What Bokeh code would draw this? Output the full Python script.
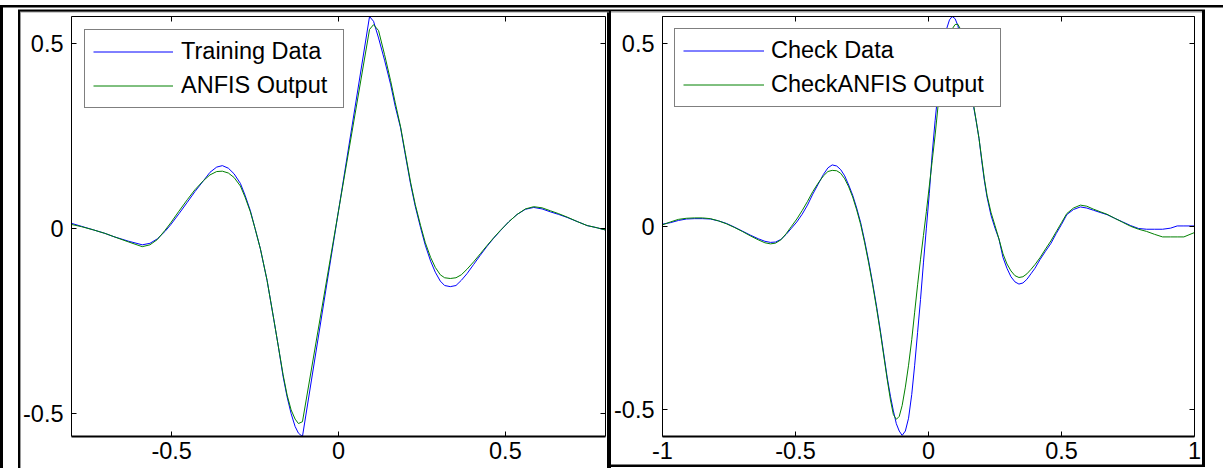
from bokeh.plotting import figure
from bokeh.models import (Range1d, LinearAxis, FixedTicker, CustomJSTickFormatter,
                          Legend, LegendItem)
from bokeh.layouts import row
from bokeh.embed import file_html
from bokeh.resources import INLINE

# ---------------- data ----------------
train_x = [-0.80, -0.77, -0.733, -0.70, -0.673, -0.63, -0.588, -0.565, -0.543, -0.52,
           -0.503, -0.478, -0.453, -0.43, -0.404, -0.385, -0.365, -0.348, -0.33, -0.313,
           -0.294, -0.28, -0.264, -0.25, -0.234, -0.214, -0.194, -0.18, -0.166, -0.154,
           -0.142, -0.13, -0.12, -0.108, 0.093, 0.105, 0.12, 0.138, 0.156, 0.17,
           0.186, 0.20, 0.216, 0.23, 0.246, 0.26, 0.276, 0.29, 0.305, 0.318,
           0.335, 0.352, 0.368, 0.385, 0.405, 0.425, 0.445, 0.465, 0.485, 0.51,
           0.535, 0.56, 0.585, 0.61, 0.635, 0.66, 0.685, 0.715, 0.745, 0.775, 0.80]
train_y = [0.014, 0.006, -0.004, -0.013, -0.022, -0.034, -0.044, -0.040, -0.028, -0.008,
           0.010, 0.040, 0.071, 0.100, 0.130, 0.152, 0.166, 0.170, 0.163, 0.148,
           0.122, 0.090, 0.048, 0.000, -0.055, -0.140, -0.245, -0.320, -0.400, -0.455,
           -0.500, -0.535, -0.553, -0.562, 0.573, 0.560, 0.515, 0.455, 0.390, 0.330,
           0.272, 0.200, 0.120, 0.060, 0.002, -0.045, -0.088, -0.118, -0.142, -0.154,
           -0.157, -0.154, -0.140, -0.122, -0.097, -0.072, -0.048, -0.026, -0.006, 0.018,
           0.038, 0.052, 0.057, 0.053, 0.045, 0.038, 0.030, 0.019, 0.008, 0.002, -0.004]
anfis_train_y = [0.011, 0.005, -0.004, -0.013, -0.022, -0.036, -0.049, -0.044, -0.030, -0.005,
                 0.015, 0.047, 0.078, 0.105, 0.130, 0.145, 0.154, 0.155, 0.150, 0.138,
                 0.115, 0.085, 0.045, 0.000, -0.055, -0.140, -0.245, -0.320, -0.395, -0.450,
                 -0.490, -0.515, -0.527, -0.522, 0.538, 0.551, 0.535, 0.470, 0.400, 0.340,
                 0.275, 0.205, 0.125, 0.065, 0.008, -0.038, -0.078, -0.105, -0.125, -0.133,
                 -0.135, -0.133, -0.125, -0.110, -0.090, -0.068, -0.046, -0.025, -0.005, 0.018,
                 0.038, 0.053, 0.059, 0.056, 0.048, 0.040, 0.031, 0.019, 0.008, 0.002, -0.004]

check_x = [-1.0, -0.97, -0.94, -0.91, -0.88, -0.85, -0.82, -0.79, -0.76, -0.73,
           -0.70, -0.67, -0.64, -0.615, -0.594, -0.575, -0.555, -0.535, -0.515, -0.495,
           -0.475, -0.455, -0.435, -0.415, -0.395, -0.378, -0.362, -0.345, -0.33, -0.315,
           -0.30, -0.285, -0.27, -0.255, -0.24, -0.225, -0.21, -0.195, -0.18, -0.167,
           -0.155, -0.143, -0.132, -0.121, -0.11, -0.099, -0.087, -0.075, -0.063, -0.052,
           -0.041, -0.03, -0.019, -0.008, 0.003, 0.014, 0.025, 0.036, 0.047, 0.058,
           0.068, 0.079, 0.089, 0.10, 0.11, 0.12, 0.13, 0.14, 0.15, 0.16,
           0.17, 0.18, 0.19, 0.20, 0.21, 0.22, 0.235, 0.25, 0.265, 0.28,
           0.295, 0.31, 0.325, 0.34, 0.355, 0.37, 0.385, 0.40, 0.42, 0.44,
           0.46, 0.48, 0.50, 0.52, 0.545, 0.571, 0.595, 0.62, 0.645, 0.671,
           0.70, 0.73, 0.76, 0.79, 0.82, 0.85, 0.88, 0.91, 0.935, 0.96, 1.0]
check_y = [0.006, 0.010, 0.016, 0.020, 0.021, 0.021, 0.020, 0.015, 0.008, -0.002,
           -0.013, -0.024, -0.034, -0.041, -0.044, -0.043, -0.036, -0.022, -0.005, 0.012,
           0.033, 0.058, 0.088, 0.115, 0.142, 0.160, 0.168, 0.165, 0.155, 0.138,
           0.113, 0.085, 0.050, 0.010, -0.040, -0.095, -0.155, -0.220, -0.290, -0.355,
           -0.415, -0.465, -0.505, -0.540, -0.560, -0.572, -0.560, -0.525, -0.460, -0.380,
           -0.290, -0.200, -0.100, -0.005, 0.090, 0.200, 0.290, 0.370, 0.440, 0.500,
           0.540, 0.565, 0.574, 0.568, 0.550, 0.520, 0.480, 0.435, 0.390, 0.360,
           0.325, 0.285, 0.240, 0.180, 0.125, 0.080, 0.030, -0.005, -0.035, -0.085,
           -0.115, -0.138, -0.152, -0.158, -0.155, -0.145, -0.130, -0.115, -0.090, -0.068,
           -0.047, -0.020, 0.005, 0.032, 0.046, 0.053, 0.050, 0.044, 0.038, 0.032,
           0.022, 0.012, 0.002, -0.006, -0.008, -0.008, -0.008, -0.005, 0.001, 0.001, 0.001]
anfis_check_y = [0.004, 0.012, 0.019, 0.022, 0.023, 0.023, 0.021, 0.015, 0.007, -0.003,
                 -0.014, -0.026, -0.037, -0.045, -0.048, -0.046, -0.037, -0.020, 0.000, 0.020,
                 0.043, 0.068, 0.095, 0.118, 0.138, 0.150, 0.153, 0.152, 0.145, 0.130,
                 0.108, 0.080, 0.045, 0.005, -0.045, -0.100, -0.160, -0.225, -0.295, -0.360,
                 -0.420, -0.475, -0.515, -0.528, -0.520, -0.490, -0.440, -0.380, -0.310, -0.235,
                 -0.160, -0.090, -0.025, 0.040, 0.110, 0.180, 0.250, 0.330, 0.400, 0.450,
                 0.490, 0.520, 0.540, 0.552, 0.553, 0.540, 0.510, 0.470, 0.420, 0.370,
                 0.330, 0.285, 0.240, 0.185, 0.130, 0.085, 0.038, 0.002, -0.035, -0.075,
                 -0.103, -0.122, -0.135, -0.140, -0.138, -0.130, -0.118, -0.105, -0.085, -0.062,
                 -0.040, -0.015, 0.010, 0.035, 0.050, 0.058, 0.055, 0.047, 0.040, 0.033,
                 0.022, 0.011, 0.000, -0.008, -0.014, -0.022, -0.029, -0.029, -0.029, -0.029, -0.017]

train_xticks = [-0.5, 0, 0.5]
train_xlabels = ["-0.5", "0", "0.5"]
check_xticks = [-1, -0.5, 0, 0.5, 1]
check_xlabels = ["-1", "-0.5", "0", "0.5", "1"]
yticks = [-0.5, 0, 0.5]
ylabels = ["-0.5", "0", "0.5"]

legend_train = ["Training Data", "ANFIS Output"]
legend_check = ["Check Data", "CheckANFIS Output"]

FONT = "Liberation Sans"
FSIZE = "23.5px"
BLUE = "#0000ff"
GREEN = "#008000"


def blank():
    return CustomJSTickFormatter(code="return ''")


def make_panel(width, xr, yr, borders, xs, y1, y2, xticks, xlabels, labels,
               leg_margin, glyph_w, standoff, label_w, frame_css):
    b_left, b_right = borders
    p = figure(width=width, height=468, x_range=Range1d(*xr), y_range=Range1d(*yr),
               output_backend="svg", toolbar_location=None,
               min_border_left=b_left, min_border_right=b_right,
               min_border_top=16, min_border_bottom=32,
               styles={"box-shadow": frame_css})
    p.xgrid.visible = False
    p.ygrid.visible = False
    p.outline_line_color = None
    p.background_fill_color = "white"
    p.border_fill_color = None

    for ax, tk, lab in ((p.xaxis[0], xticks, xlabels), (p.yaxis[0], yticks, ylabels)):
        ax.ticker = FixedTicker(ticks=tk)
        ax.major_label_overrides = {t: l for t, l in zip(tk, lab)}
        ax.major_tick_in = 5
        ax.major_tick_out = 0
        ax.minor_tick_in = 0
        ax.minor_tick_out = 0
        ax.axis_line_color = "black"
        ax.major_tick_line_color = "black"
        ax.major_label_text_font = FONT
        ax.major_label_text_font_size = FSIZE
        ax.major_label_text_color = "black"
    p.xaxis[0].axis_line_width = 2
    p.xaxis[0].major_label_standoff = 5
    p.yaxis[0].axis_line_width = 1
    p.yaxis[0].major_label_standoff = 8

    top = LinearAxis(ticker=FixedTicker(ticks=xticks), formatter=blank(),
                     major_tick_in=5, major_tick_out=0, minor_tick_in=0, minor_tick_out=0,
                     major_label_standoff=0, axis_line_width=1)
    right = LinearAxis(ticker=FixedTicker(ticks=yticks), formatter=blank(),
                       major_tick_in=5, major_tick_out=0, minor_tick_in=0, minor_tick_out=0,
                       major_label_standoff=0, axis_line_width=1)
    p.add_layout(top, "above")
    p.add_layout(right, "right")

    r1 = p.line(xs, y1, line_color=BLUE, line_width=1)
    r2 = p.line(xs, y2, line_color=GREEN, line_width=1)

    leg = Legend(items=[LegendItem(label=labels[0], renderers=[r1]),
                        LegendItem(label=labels[1], renderers=[r2])],
                 location="top_left", margin=leg_margin, padding=8, spacing=7,
                 glyph_width=glyph_w, glyph_height=27, label_height=27,
                 label_width=label_w, label_standoff=standoff,
                 label_text_font=FONT, label_text_font_size=FSIZE,
                 label_text_color="black", border_line_color="black",
                 border_line_width=1, background_fill_color="white",
                 background_fill_alpha=1)
    p.add_layout(leg)
    return p


# picture / table-cell frame lines, painted as stacked inset CSS shadows
frame_left = ", ".join([
    "inset 0 5px 0 0 white",
    "inset 3px 0 0 0 black",
    "inset 0 7.5px 0 0 black",
    "inset 18px 0 0 0 white",
    "inset 0 9.5px 0 0 white",
    "inset 0 11.5px 0 0 black",
    "inset 20px 0 0 0 black",
    "inset 0 12.5px 0 0 #9a9a9a",
    "inset 21px 0 0 0 #9a9a9a",
    "inset -2px 0 0 0 black",
])
frame_right = ", ".join([
    "inset 0 5px 0 0 white",
    "inset 0 7.5px 0 0 black",
    "inset 0 9.5px 0 0 white",
    "inset -18px 0 0 0 white",
    "inset 2px 0 0 0 black",
    "inset 0 -1px 0 0 white",
    "inset 0 11px 0 0 black",
    "inset -21px 0 0 0 black",
    "inset 0 -3.5px 0 0 black",
    "inset 0 12.5px 0 0 #9a9a9a",
])

p1 = make_panel(609, (-0.8, 0.8), (-0.562, 0.573), (71, 4), train_x, train_y, anfis_train_y,
                train_xticks, train_xlabels, legend_train, 13, 80, 8, 154, frame_left)
p2 = make_panel(614, (-1, 1), (-0.575, 0.574), (53, 29), check_x, check_y, anfis_check_y,
                check_xticks, check_xlabels, legend_check, 12, 81, 7, 221, frame_right)

layout = row(p1, p2)

open("out.html", "w").write(file_html(layout, INLINE))
